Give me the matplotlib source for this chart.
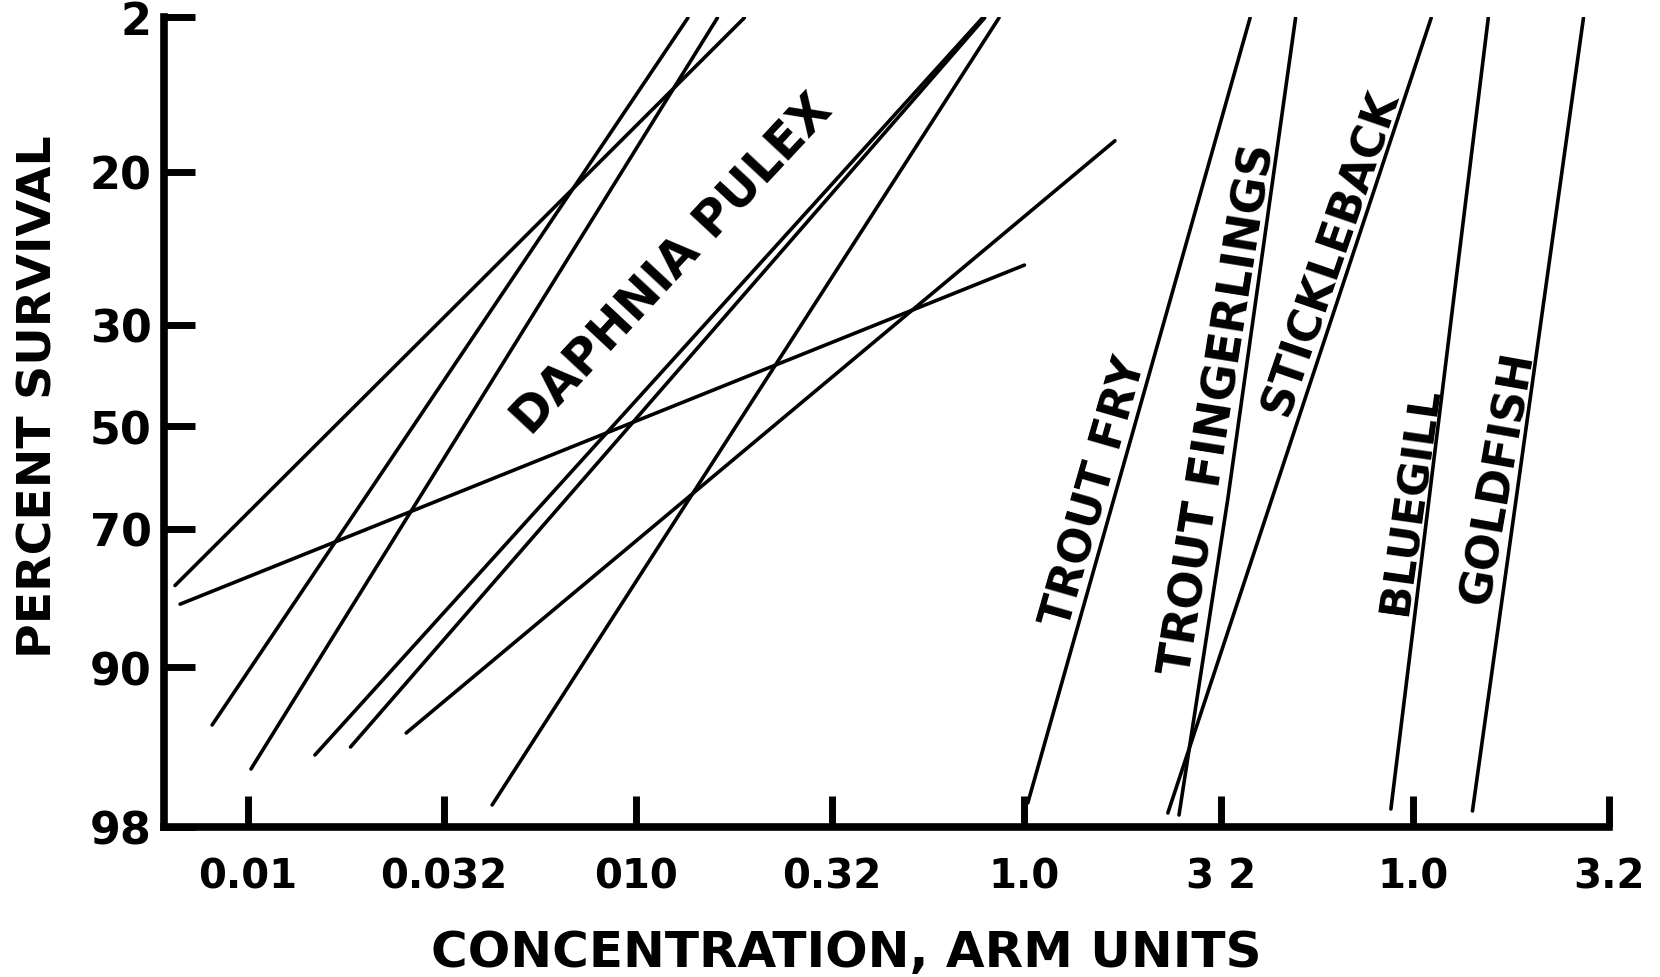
import numpy as np
import matplotlib
matplotlib.use('Agg')
import matplotlib.pyplot as plt

plt.rcParams['font.family'] = ['DejaVu Sans']
plt.rcParams['font.weight'] = 'bold'

# probit-style survival axis: tick values and their depth down the axis (0 top, 1 bottom)
pct_ticks = [2, 20, 30, 50, 70, 90, 98]
pct_depth = [0.0, 0.191, 0.380, 0.505, 0.632, 0.8025, 1.0]

conc_ticks = [0.01, 0.032, 0.1, 0.32, 1.0, 3.2, 10, 32]
conc_labels = ['0.01', '0.032', '010', '0.32', '1.0', '3 2', '1.0', '3.2']

# Daphnia pulex test lines (concentration, percent survival)
daphnia_conc = [
    [0.0067, 1.0],
    [0.0065, 0.19],
    [0.0081, 0.136],
    [0.0102, 0.162],
    [0.0149, 0.78],
    [0.0184, 0.79],
    [0.0426, 0.86],
    [0.0256, 1.71],
]
daphnia_pct = [
    [80.9, 26.1],
    [78.2, 2.1],
    [92.9, 2.1],
    [95.1, 2.1],
    [94.4, 2.1],
    [94.0, 2.1],
    [96.9, 2.1],
    [93.3, 16.4],
]

# fish lines
trout_fry_conc = [1.02, 3.81]
trout_fry_pct = [96.8, 2.1]
fingerlings_conc = [2.50, 3.34, 4.99]
fingerlings_pct = [97.4, 64.1, 2.1]
stickleback_conc = [2.34, 11.15]
stickleback_pct = [97.3, 2.1]
bluegill_conc = [8.78, 15.64]
bluegill_pct = [97.1, 2.1]
goldfish_conc = [14.24, 27.5]
goldfish_pct = [97.2, 2.1]

fish_names = ['TROUT FRY', 'TROUT FINGERLINGS', 'STICKLEBACK', 'BLUEGILL', 'GOLDFISH']
fish_label_conc = [1.515, 3.18, 6.14, 9.89, 16.55]
fish_label_pct = [62.7, 46.6, 25.2, 64.3, 59.8]
fish_label_angle = [74, 81, 71, 82, 80]
fish_label_size = [32, 33, 32, 31, 32]


def pct_fwd(p):
    return np.interp(p, pct_ticks, pct_depth)


def pct_inv(v):
    return np.interp(v, pct_depth, pct_ticks)


fig = plt.figure(figsize=(16.6, 9.78), dpi=100)
ax = fig.add_axes([0.0988, 0.1534, 0.8705, 0.8282])

line_kw = dict(color='black', lw=2.6, solid_capstyle='round')
for xs, ys in zip(daphnia_conc, daphnia_pct):
    ax.plot(xs, ys, **line_kw)
for xs, ys in [(trout_fry_conc, trout_fry_pct), (fingerlings_conc, fingerlings_pct),
               (stickleback_conc, stickleback_pct), (bluegill_conc, bluegill_pct),
               (goldfish_conc, goldfish_pct)]:
    ax.plot(xs, ys, **line_kw)

ax.set_xscale('log')
ax.set_yscale('function', functions=(pct_fwd, pct_inv))
ax.set_xlim(0.00609, 32)
ax.set_ylim(98, 2)

ax.set_xticks(conc_ticks)
ax.set_xticklabels(conc_labels)
ax.xaxis.set_minor_locator(matplotlib.ticker.NullLocator())
ax.set_yticks(pct_ticks)
ax.set_yticklabels([str(t) for t in pct_ticks])
ax.yaxis.set_minor_locator(matplotlib.ticker.NullLocator())

for s in ['top', 'right']:
    ax.spines[s].set_visible(False)
for s in ['left', 'bottom']:
    ax.spines[s].set_linewidth(5.5)
    ax.spines[s].set_capstyle('projecting')

ax.tick_params(axis='both', direction='in', length=22, width=5)
ax.tick_params(axis='x', pad=21, labelsize=29)
ax.tick_params(axis='y', pad=9, labelsize=32)

ax.text(0.124, 26.0, 'DAPHNIA PULEX', rotation=47, rotation_mode='anchor',
        ha='center', va='center', fontsize=35, fontweight='bold')
for name, cx, cy, ang, fs in zip(fish_names, fish_label_conc, fish_label_pct,
                                 fish_label_angle, fish_label_size):
    ax.text(cx, cy, name, rotation=ang, rotation_mode='anchor',
            ha='center', va='center', fontsize=fs, fontweight='bold')

fig.text(0.510, 0.0256, 'CONCENTRATION, ARM UNITS', ha='center', va='center',
         fontsize=36, fontweight='bold')
fig.text(0.0235, 0.594, 'PERCENT SURVIVAL', ha='center', va='center', rotation=90,
         fontsize=34, fontweight='bold')

fig.savefig('out.png', dpi=100, facecolor='white')
